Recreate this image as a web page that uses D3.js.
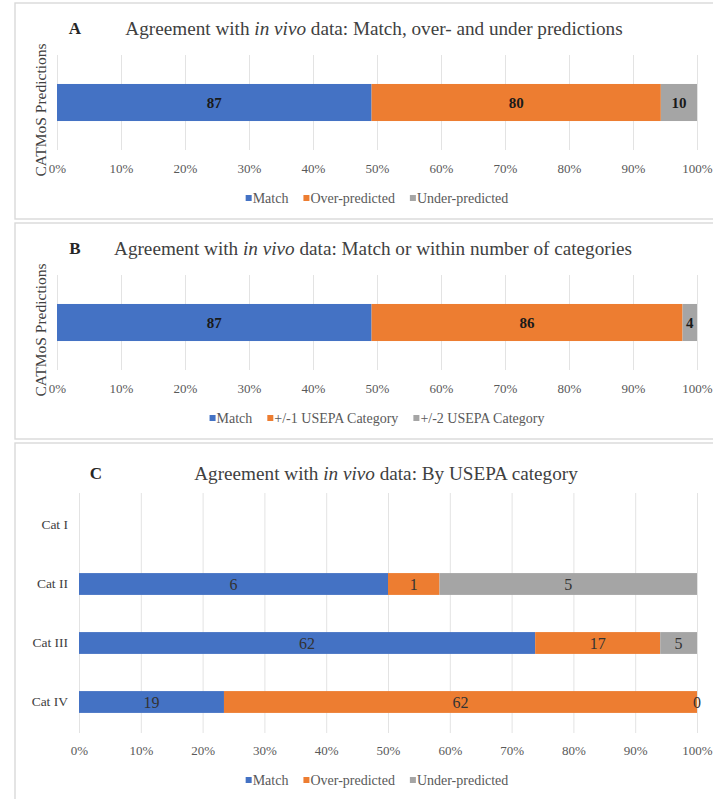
<!DOCTYPE html>
<html>
<head>
<meta charset="utf-8">
<script src="https://cdn.jsdelivr.net/npm/d3@7"></script>
<style>
  html, body { margin: 0; padding: 0; background: #ffffff; }
  svg { display: block; font-family: "Liberation Serif", "Times New Roman", serif; }
</style>
</head>
<body>
<svg id="chart" width="713" height="799"></svg>
<script>
// ---- data ----
const tickValues = [0, 0.1, 0.2, 0.3, 0.4, 0.5, 0.6, 0.7, 0.8, 0.9, 1.0];
const tickLabels = ["0%", "10%", "20%", "30%", "40%", "50%", "60%", "70%", "80%", "90%", "100%"];

const seriesA = ["Match", "Over-predicted", "Under-predicted"];
const valuesA = [87, 80, 10];

const seriesB = ["Match", "+/-1 USEPA Category", "+/-2 USEPA Category"];
const valuesB = [87, 86, 4];

const categoriesC = ["Cat I", "Cat II", "Cat III", "Cat IV"];
const seriesC = ["Match", "Over-predicted", "Under-predicted"];
const matchC = [0, 6, 62, 19];
const overC = [0, 1, 17, 62];
const underC = [0, 5, 5, 0];

const colors = ["#4472C4", "#ED7D31", "#A5A5A5"];
const SERIF = "Liberation Serif, Times New Roman, serif";

const svg = d3.select("#chart");

// panel frames
const frames = [
  { y: 3, h: 216 },
  { y: 223, h: 216 },
  { y: 443, h: 360 }
];
svg.selectAll("rect.frame").data(frames).join("rect")
  .attr("class", "frame")
  .attr("x", 15).attr("y", d => d.y)
  .attr("width", 710).attr("height", d => d.h)
  .attr("fill", "#ffffff")
  .attr("stroke", "#d9d9d9").attr("stroke-width", 1.4);

// shared helpers
function drawTitle(letter, letterX, parts, cx, y) {
  svg.append("text")
    .attr("x", letterX).attr("y", y)
    .attr("text-anchor", "middle").attr("dominant-baseline", "central")
    .attr("font-size", 17).attr("font-weight", "bold").attr("fill", "#262626")
    .text(letter);
  const t = svg.append("text")
    .attr("x", cx).attr("y", y)
    .attr("text-anchor", "middle").attr("dominant-baseline", "central")
    .attr("font-size", 19.2).attr("fill", "#404040");
  parts.forEach(p => {
    t.append("tspan").attr("font-style", p.italic ? "italic" : "normal").text(p.text);
  });
}

function drawLegend(names, cx, y) {
  const g = svg.append("g");
  let x = 0;
  const gap = 15;
  names.forEach((name, i) => {
    g.append("rect")
      .attr("x", x).attr("y", y - 3)
      .attr("width", 6).attr("height", 6)
      .attr("fill", colors[i]);
    const t = g.append("text")
      .attr("x", x + 7).attr("y", y)
      .attr("dominant-baseline", "central")
      .attr("font-family", SERIF)
      .attr("font-size", 14).attr("fill", "#595959")
      .text(name);
    x += 7 + t.node().getComputedTextLength() + gap;
  });
  const total = x - gap;
  g.attr("transform", `translate(${cx - total / 2},0)`);
}

function drawXAxis(x, gridTop, gridBottom, labelY) {
  // vertical gridlines
  svg.append("g")
    .attr("transform", `translate(0,${gridBottom})`)
    .call(d3.axisBottom(x).tickValues(tickValues).tickSize(-(gridBottom - gridTop)).tickFormat(""))
    .call(g => g.select(".domain").remove())
    .call(g => g.selectAll(".tick line").attr("stroke", "#e3e3e3").attr("stroke-width", 1));
  // tick labels
  svg.append("g")
    .attr("transform", `translate(0,${labelY})`)
    .call(d3.axisBottom(x).tickValues(tickValues).tickSize(0).tickPadding(0)
      .tickFormat((d, i) => tickLabels[i]))
    .attr("font-family", SERIF)
    .call(g => g.select(".domain").remove())
    .call(g => g.selectAll(".tick text")
      .attr("y", 0).attr("dy", null)
      .attr("dominant-baseline", "central")
      .attr("font-family", SERIF)
      .attr("font-size", 13).attr("fill", "#595959"));
}

// ---- panels A and B: single stacked 100% bar ----
function drawSingleBar(opts) {
  const { values, series, top, letter, letterX, titleParts, titleX } = opts;
  const x = d3.scaleLinear().domain([0, 1]).range([57, 697]);
  const y = d3.scaleBand().domain(["CATMoS Predictions"])
    .range([top + 52, top + 147]).paddingInner(0.61).paddingOuter(0.305);

  drawTitle(letter, letterX, titleParts, titleX, top + 25);
  drawXAxis(x, top + 52, top + 147, top + 165);

  const row = {};
  series.forEach((s, i) => row[s] = values[i]);
  const stacked = d3.stack().keys(series).offset(d3.stackOffsetExpand)([row]);

  const layers = svg.append("g").selectAll("g").data(stacked).join("g")
    .attr("fill", (d, i) => colors[i]);
  layers.selectAll("rect").data(d => d).join("rect")
    .attr("x", d => x(d[0]))
    .attr("width", d => x(d[1]) - x(d[0]))
    .attr("y", y("CATMoS Predictions"))
    .attr("height", y.bandwidth());

  svg.append("g").selectAll("text").data(stacked).join("text")
    .attr("x", d => (x(d[0][0]) + x(d[0][1])) / 2)
    .attr("y", y("CATMoS Predictions") + y.bandwidth() / 2)
    .attr("text-anchor", "middle").attr("dominant-baseline", "central")
    .attr("font-size", 15).attr("font-weight", "bold").attr("fill", "#1a1a1a")
    .text((d, i) => values[i]);

  // category name shown as rotated axis label
  svg.append("text")
    .attr("transform", `translate(40,${top + 107}) rotate(-90)`)
    .attr("text-anchor", "middle").attr("dominant-baseline", "central")
    .attr("font-size", 15.5).attr("fill", "#404040")
    .text("CATMoS Predictions");

  drawLegend(series, 377, top + 195);
}

drawSingleBar({
  values: valuesA, series: seriesA, top: 3, letter: "A", letterX: 75,
  titleParts: [{ text: "Agreement with " }, { text: "in vivo", italic: true },
               { text: " data: Match, over- and under predictions" }],
  titleX: 374
});

drawSingleBar({
  values: valuesB, series: seriesB, top: 223, letter: "B", letterX: 75,
  titleParts: [{ text: "Agreement with " }, { text: "in vivo", italic: true },
               { text: " data: Match or within number of categories" }],
  titleX: 373
});

// ---- panel C: stacked 100% bars by USEPA category ----
(function () {
  const x = d3.scaleLinear().domain([0, 1]).range([79, 697]);
  const y = d3.scaleBand().domain(categoriesC)
    .range([495.5, 731.5]).paddingInner(0.63).paddingOuter(0.315);

  drawTitle("C", 96, [{ text: "Agreement with " }, { text: "in vivo", italic: true },
                      { text: " data: By USEPA category" }], 386, 473);
  drawXAxis(x, 493, 733, 750);

  const rows = categoriesC.map((c, i) => ({
    cat: c, total: matchC[i] + overC[i] + underC[i],
    [seriesC[0]]: matchC[i], [seriesC[1]]: overC[i], [seriesC[2]]: underC[i]
  }));
  const stacked = d3.stack().keys(seriesC).offset(d3.stackOffsetExpand)(rows);

  const layers = svg.append("g").selectAll("g").data(stacked).join("g")
    .attr("fill", (d, i) => colors[i]);
  layers.selectAll("rect").data(d => d).join("rect")
    .attr("x", d => x(d[0]))
    .attr("width", d => Math.max(0, x(d[1]) - x(d[0])))
    .attr("y", d => y(d.data.cat))
    .attr("height", y.bandwidth());

  const labels = svg.append("g");
  stacked.forEach(layer => {
    layer.forEach(d => {
      if (d.data.total === 0) return;
      labels.append("text")
        .attr("x", (x(d[0]) + x(d[1])) / 2)
        .attr("y", y(d.data.cat) + y.bandwidth() / 2)
        .attr("text-anchor", "middle").attr("dominant-baseline", "central")
        .attr("font-size", 16).attr("fill", "#333333")
        .text(d.data[layer.key]);
    });
  });

  // category axis
  svg.append("g")
    .attr("transform", "translate(68,0)")
    .call(d3.axisLeft(y).tickSize(0).tickPadding(0))
    .attr("font-family", SERIF)
    .call(g => g.select(".domain").remove())
    .call(g => g.selectAll(".tick text")
      .attr("font-family", SERIF)
      .attr("font-size", 13.5).attr("fill", "#404040"));

  drawLegend(seriesC, 377, 780);
})();
</script>
</body>
</html>
